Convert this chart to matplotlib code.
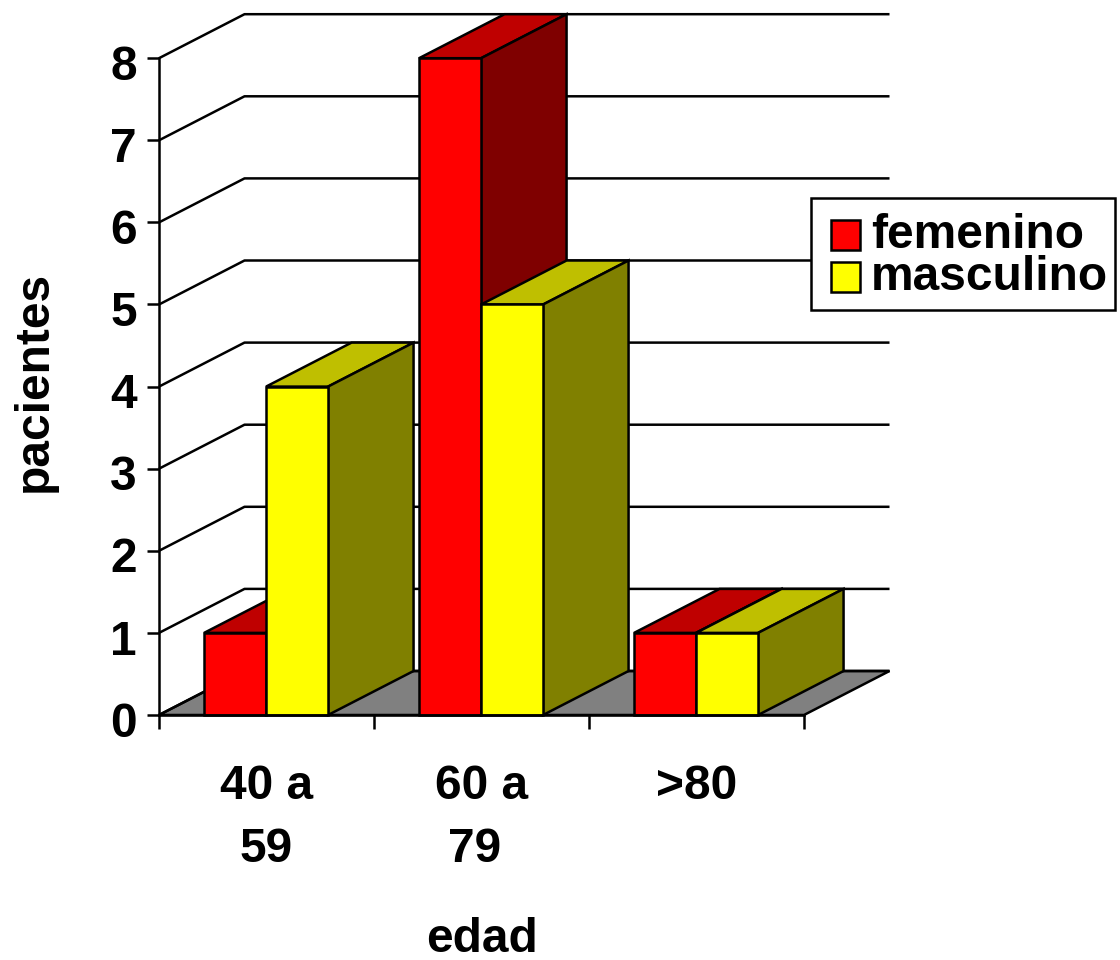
import numpy as np
import matplotlib
matplotlib.use('Agg')
import matplotlib.pyplot as plt
from matplotlib.patches import Polygon, Rectangle
from matplotlib.transforms import ScaledTranslation

# the trailing space keeps the "79" off centre like in the original
categories = ['40 a\n59', '60 a\n79 ', '>80']
femenino = [1, 8, 1]
masculino = [4, 5, 1]
y_ticks = [0, 1, 2, 3, 4, 5, 6, 7, 8]
series_names = ['femenino', 'masculino']

plt.rcParams['font.family'] = ['Liberation Sans', 'DejaVu Sans']
plt.rcParams['font.weight'] = 'bold'

# depth of the fake 3d, in data units
dx = 85.5 / 215
dy = 44 / 82.1
w = 62 / 215
lw = 1.8
fs = 34.5

fig = plt.figure(figsize=(11.2, 9.6), dpi=100)
ax = fig.add_axes([0, 0, 1, 1])
ax.set_xlim(-159 / 215, (1120 - 159) / 215)
ax.set_ylim(-245 / 82.1, 715 / 82.1)
ax.patch.set_visible(False)

n = len(categories)
ax.add_patch(Polygon([(0, 0), (n, 0), (n + dx, dy), (dx, dy)], fc='#808080', ec='black', lw=lw, zorder=1))

for v in y_ticks:
    ax.plot([0, dx, n + dx], [v, v + dy, v + dy], color='black', lw=lw, zorder=1, solid_capstyle='butt')


def draw_bar(left, h, front, top, side, z):
    right = left + w
    ax.add_patch(Polygon([(left, h), (right, h), (right + dx, h + dy), (left + dx, h + dy)],
                         fc=top, ec='black', lw=lw, zorder=z))
    ax.add_patch(Polygon([(right, 0), (right + dx, dy), (right + dx, h + dy), (right, h)],
                         fc=side, ec='black', lw=lw, zorder=z))
    ax.bar(left, h, w, align='edge', color=front, edgecolor='black', linewidth=lw, zorder=z + 0.5)


for i in range(n):
    left = i + 0.498 - w
    draw_bar(left, femenino[i], '#FF0000', '#BF0000', '#7F0000', 2 + i)
    draw_bar(left + w, masculino[i], '#FFFF00', '#BFBF00', '#808000', 2.6 + i)

for s in ['top', 'right']:
    ax.spines[s].set_visible(False)
ax.spines['left'].set_position(('data', 0))
ax.spines['bottom'].set_position(('data', 0))
ax.spines['left'].set_bounds(0, 8)
ax.spines['bottom'].set_bounds(0, n)
ax.spines['left'].set_linewidth(lw)
ax.spines['bottom'].set_linewidth(lw)
ax.spines['left'].set_zorder(10)
ax.spines['bottom'].set_zorder(10)

ax.set_yticks(y_ticks)
ax.set_yticklabels([str(v) for v in y_ticks], fontsize=fs, fontweight='bold')
ax.tick_params(axis='y', length=9, width=lw, pad=7)
# labels sit a bit below their ticks in the original
for lab in ax.get_yticklabels():
    lab.set_transform(lab.get_transform() + ScaledTranslation(0, -3 / 72, fig.dpi_scale_trans))
ax.set_xticks(np.arange(n + 1))
ax.set_xticklabels([''] * (n + 1))
ax.tick_params(axis='x', length=10, width=lw)

for i, c in enumerate(categories):
    ax.text(i + 0.5, -0.6, c, ha='center', va='top', fontsize=fs, fontweight='bold', linespacing=1.5)

ax.text(-0.578, 4.06, 'pacientes', rotation=90, ha='center', va='center', fontsize=fs, fontweight='bold')
ax.text(1.5, -2.73, 'edad', ha='center', va='center', fontsize=fs, fontweight='bold')


# legend laid out by hand, its padding is uneven in the original
def px_rect(x0, y0, x1, y1, fc, z):
    fig.add_artist(Rectangle((x0 / 1120, 1 - y1 / 960), (x1 - x0) / 1120, (y1 - y0) / 960, fc=fc, ec='black',
                             lw=lw, transform=fig.transFigure, zorder=z))


px_rect(811, 198, 1115, 310, 'white', 20)
px_rect(831, 220, 860, 250, '#FF0000', 21)
px_rect(831, 262, 860, 292, '#FFFF00', 21)
fig.text(871 / 1120, 1 - 235 / 960, series_names[0], ha='left', va='center', fontsize=fs, fontweight='bold', zorder=22)
fig.text(871 / 1120, 1 - 277 / 960, series_names[1], ha='left', va='center', fontsize=fs, fontweight='bold', zorder=22)

fig.savefig('out.png', dpi=100)
